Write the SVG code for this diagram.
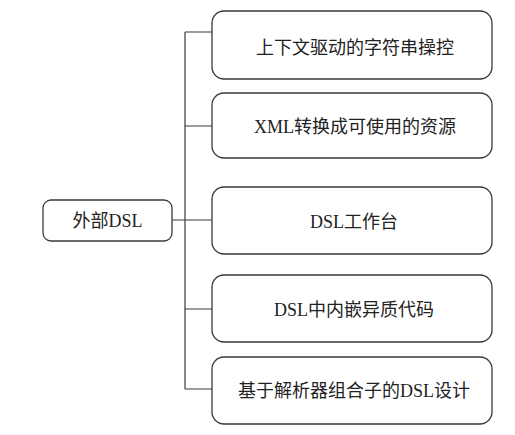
<svg xmlns="http://www.w3.org/2000/svg" width="515" height="435" viewBox="0 0 515 435">
<style>
.box{fill:#fff;stroke:#3a3a3a;stroke-width:1.3}
.t{font-family:"Liberation Serif","Noto Sans CJK SC",serif;font-size:18px;fill:#222;text-anchor:middle;dominant-baseline:central}
.c{fill:none;stroke:#3a3a3a;stroke-width:1.2}
</style>
<rect width="515" height="435" fill="#fff"/>
<g id="connectors">
<path class="c" d="M185,32 V389 M172,220 H212 M185,32 H212 M185,126 H212 M185,309 H212 M185,389 H212"/>
</g>
<g id="root"><rect class="box" x="43" y="200" width="129" height="41" rx="8"/><text class="t" x="107.5" y="221">外部DSL</text></g>
<g id="n1"><rect class="box" x="212" y="11" width="280" height="68" rx="12"/><text class="t" x="355" y="48">上下文驱动的字符串操控</text></g>
<g id="n2"><rect class="box" x="212" y="93" width="280" height="65" rx="12"/><text class="t" x="355" y="127">XML转换成可使用的资源</text></g>
<g id="n3"><rect class="box" x="212" y="187" width="280" height="67" rx="12"/><text class="t" x="354" y="222">DSL工作台</text></g>
<g id="n4"><rect class="box" x="212" y="275" width="280" height="67" rx="12"/><text class="t" x="354" y="310">DSL中内嵌异质代码</text></g>
<g id="n5"><rect class="box" x="212" y="357" width="280" height="67" rx="12"/><text class="t" x="354" y="391">基于解析器组合子的DSL设计</text></g>
</svg>
